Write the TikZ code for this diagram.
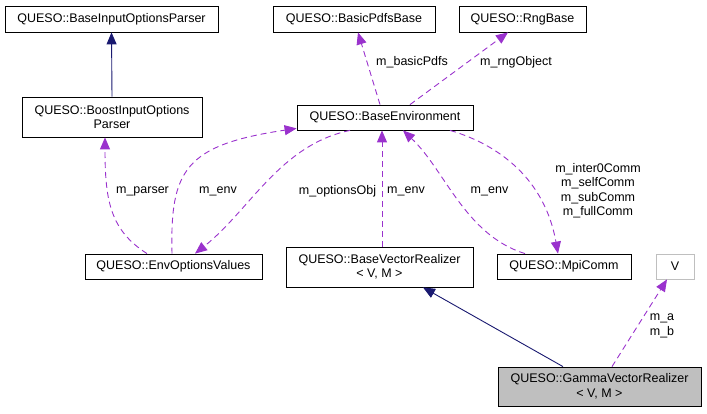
\documentclass[tikz,border=0pt]{standalone}
\usepackage{fontspec}
\setmainfont{Liberation Sans}
\usetikzlibrary{arrows.meta}
\definecolor{dxpurple}{HTML}{9A32CD}
\definecolor{dxnavy}{HTML}{191970}
\definecolor{dxgrey}{HTML}{BFBFBF}
\begin{document}
\begin{tikzpicture}[x=1pt,y=-1pt,
  every node/.style={font=\fontsize{12.5}{14.5}\selectfont, inner sep=0pt, align=center},
  cls/.style={draw=black, line width=0.8pt, fill=white},
  usage/.style={draw=dxpurple, line width=0.9pt, dash pattern=on 6pt off 4pt, -{Triangle[length=12pt,width=10pt]}},
  inherit/.style={draw=dxnavy, line width=0.9pt, -{Triangle[length=12pt,width=10pt]}},
  lbl/.style={fill=none}]
\useasboundingbox (0,0) rectangle (707,413);
% nodes
\node[cls, minimum width=213pt, minimum height=26pt] (bip) at (111.5,19) {QUESO::BaseInputOptionsParser};
\node[cls, minimum width=180pt, minimum height=40pt] (boost) at (112,117) {QUESO::BoostInputOptions\\Parser};
\node[cls, minimum width=162pt, minimum height=26pt] (bpb) at (354,19) {QUESO::BasicPdfsBase};
\node[cls, minimum width=127pt, minimum height=26pt] (rng) at (522.5,19) {QUESO::RngBase};
\node[cls, minimum width=176pt, minimum height=25pt] (be) at (385,117.5) {QUESO::BaseEnvironment};
\node[cls, minimum width=177pt, minimum height=25pt] (eov) at (173.5,266.5) {QUESO::EnvOptionsValues};
\node[cls, minimum width=187pt, minimum height=40pt] (bvr) at (379.5,267) {QUESO::BaseVectorRealizer\\< V, M >};
\node[cls, minimum width=134pt, minimum height=25pt] (mpi) at (564,266.5) {QUESO::MpiComm};
\node[draw=dxgrey, line width=0.8pt, fill=white, minimum width=38pt, minimum height=25pt] (v) at (675,266.5) {V};
\node[draw=black, line width=0.8pt, fill=dxgrey, minimum width=203pt, minimum height=39pt] (gvr) at (599.5,386.5) {QUESO::GammaVectorRealizer\\< V, M >};
% inheritance
\draw[inherit] (boost.north) -- (bip.south);
\draw[inherit] ([xshift=-36.5pt]gvr.north) -- ([xshift=43.5pt]bvr.south);
% usage
\draw[usage] ([xshift=-5pt]be.north) -- ([xshift=4pt]bpb.south);
\draw[usage] ([xshift=25pt]be.north) -- ([xshift=-14.5pt]rng.south);
\draw[usage] ([xshift=-1.5pt]eov.north) .. controls (170,170) and (185,145) .. ([yshift=2pt]be.south west);
\draw[usage] ([xshift=-35pt]be.south) .. controls (280,145) and (250,210) .. ([xshift=21.5pt]eov.north);
\draw[usage] ([xshift=-26.5pt]eov.north) .. controls (110,230) and (105,200) .. ([xshift=-7pt]boost.south);
\draw[usage] ([xshift=2.5pt]bvr.north) -- ([xshift=-3pt]be.south);
\draw[usage] ([xshift=-39pt]mpi.north) .. controls (465,235) and (445,170) .. ([xshift=18pt]be.south);
\draw[usage] ([xshift=65pt]be.south) .. controls (500,145) and (545,180) .. ([xshift=-6pt]mpi.north);
\draw[usage] ([xshift=12.5pt]gvr.north) -- ([xshift=-8pt]v.south);
% labels
\node[lbl] (l1) at (412,62) {m\_basicPdfs};
\node[lbl] (l2) at (516,62) {m\_rngObject};
\node[lbl] (l3) at (142.5,191.5) {m\_parser};
\node[lbl] (l4) at (218,191.5) {m\_env};
\node[lbl] (l5) at (337.5,191.5) {m\_optionsObj};
\node[lbl] (l6) at (406,191.5) {m\_env};
\node[lbl] (l7) at (489.5,191.5) {m\_env};
\node[lbl] (l8) at (598,190.5) {m\_inter0Comm\\m\_selfComm\\m\_subComm\\m\_fullComm};
\node[lbl] (l9) at (662,326) {m\_a\\m\_b};
\end{tikzpicture}
\end{document}
